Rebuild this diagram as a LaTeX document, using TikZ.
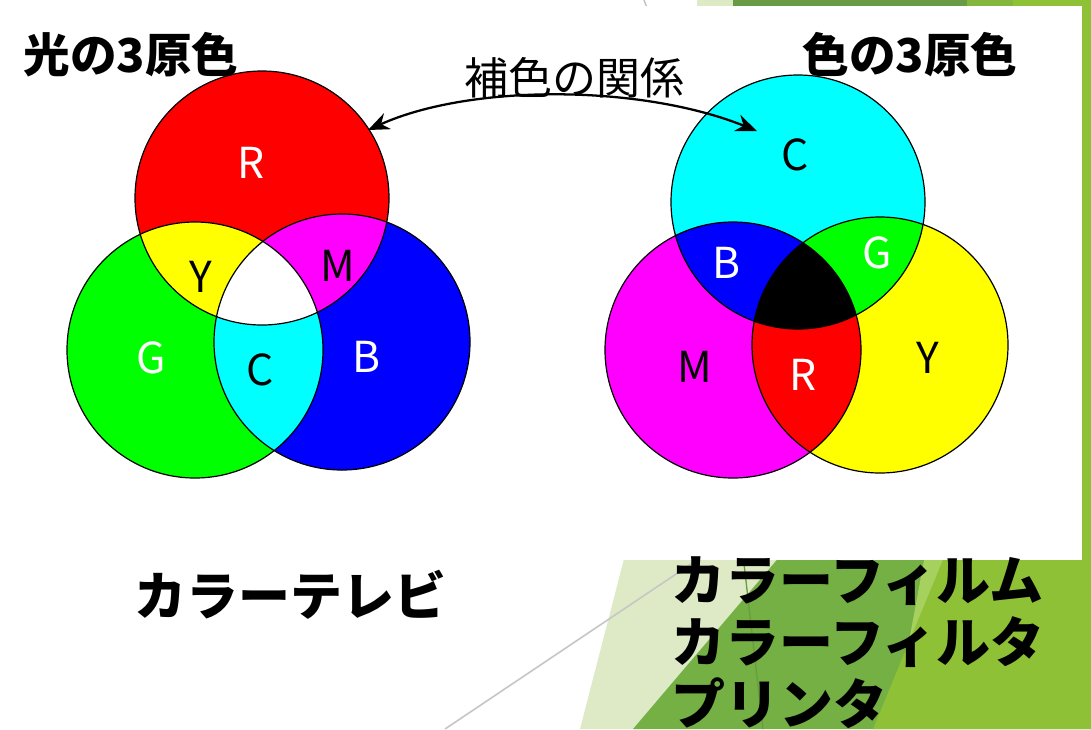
\documentclass[tikz,border=0pt]{standalone}
\usepackage{fontspec}
\setmainfont{Noto Sans CJK JP}
\usetikzlibrary{arrows.meta}
\definecolor{lightg}{HTML}{DEEAC6}
\definecolor{midg}{HTML}{699B46}
\definecolor{oliveg}{HTML}{84B53D}
\definecolor{brightg}{HTML}{8FC136}
\definecolor{darkg}{HTML}{74B044}
\definecolor{paleg}{HTML}{A7D15F}
\definecolor{pR}{HTML}{FF0000}
\definecolor{pG}{HTML}{00FF00}
\definecolor{pB}{HTML}{0000FF}
\definecolor{pC}{HTML}{00FFFF}
\definecolor{pM}{HTML}{FF00FF}
\definecolor{pY}{HTML}{FFFF00}
\tikzset{
  outline/.style={draw=black, line width=0.9pt},
  title/.style={font=\fontsize{35pt}{40pt}\selectfont\bfseries, inner sep=0pt},
  big/.style={font=\fontsize{39pt}{46pt}\selectfont\bfseries, inner sep=0pt},
  bigger/.style={font=\fontsize{40.5pt}{46.5pt}\selectfont\bfseries, inner sep=0pt},
  note/.style={font=\fontsize{33pt}{38pt}\selectfont, inner sep=0pt},
  lab/.style={font=\fontsize{32pt}{36pt}\selectfont, inner sep=0pt},
  wlab/.style={lab, text=white},
  blab/.style={lab, text=black},
  rel/.style={line width=1.7pt, {Stealth[length=16pt,width=13pt]}-{Stealth[length=16pt,width=13pt]}}
}
\begin{document}
\begin{tikzpicture}[x=0.75pt,y=-0.75pt]
\useasboundingbox (0,0) rectangle (1091,729);
\fill[white] (0,0) rectangle (1091,729);
% top decoration band
\fill[lightg] (697,0) rectangle (1091,8);
\fill[midg] (733,0) rectangle (967,8);
\fill[oliveg] (967,0) rectangle (1013,8);
\fill[brightg] (1013,0) rectangle (1091,729);
\draw[gray!50, line width=1pt] (644,0) -- (647,8);
% bottom decoration
\fill[lightg] (625,555) -- (580,729) -- (1091,729) -- (1091,555) -- cycle;
\fill[darkg] (781,555) -- (633,729) -- (1091,729) -- (1091,555) -- cycle;
\draw[black!10!darkg, line width=1pt] (743,555) -- (763,729);
\fill[paleg] (925,555) -- (945,555) -- (907,652) -- cycle;
\fill[brightg] (945,555) -- (873,729) -- (1091,729) -- (1091,555) -- cycle;
\draw[gray!45, line width=1.2pt] (445,729) -- (700,558);
% white panel
\fill[white] (0,6) rectangle (1082,560);

% ---- left diagram (additive) ----
\def\rR{(262,198) circle (127)}
\def\rG{(195,350) circle (128)}
\def\rB{(342,342) circle (128)}
\fill[pR] \rR; \fill[pG] \rG; \fill[pB] \rB;
\begin{scope}\clip \rR; \fill[pY] \rG; \end{scope}
\begin{scope}\clip \rR; \fill[pM] \rB; \end{scope}
\begin{scope}\clip \rG; \fill[pC] \rB; \end{scope}
\begin{scope}\clip \rR; \clip \rG; \fill[white] \rB; \end{scope}
\draw[outline] \rR; \draw[outline] \rG; \draw[outline] \rB;

% ---- right diagram (subtractive) ----
\def\sC{(798,202) circle (127)}
\def\sM{(733,350) circle (128)}
\def\sY{(880,345) circle (128)}
\fill[pC] \sC; \fill[pM] \sM; \fill[pY] \sY;
\begin{scope}\clip \sC; \fill[pB] \sM; \end{scope}
\begin{scope}\clip \sC; \fill[pG] \sY; \end{scope}
\begin{scope}\clip \sM; \fill[pR] \sY; \end{scope}
\begin{scope}\clip \sC; \clip \sM; \fill[black] \sY; \end{scope}
\draw[outline] \sC; \draw[outline] \sM; \draw[outline] \sY;

% labels left
\node[wlab] (lR) at (251,163) {R};
\node[blab] (lY) at (201,277) {Y};
\node[blab] (lM) at (338,266) {M};
\node[wlab] (lG) at (151,358) {G};
\node[blab] (lC) at (260,370) {C};
\node[wlab] (lB) at (367,357) {B};
% labels right
\node[blab] (rC) at (795,155) {C};
\node[wlab] (rB) at (727,263) {B};
\node[wlab] (rG) at (877,253) {G};
\node[blab] (rM) at (695,367) {M};
\node[wlab] (rR) at (803,375) {R};
\node[blab] (rY) at (928,358) {Y};

% titles
\node[title] (t1) at (131,55) {光の3原色};
\node[title] (t2) at (910,55) {色の3原色};
\node[note] (t3) at (574,78) {補色の関係};
\coordinate (arrL) at (368,130);
\coordinate (arrR) at (757,131);
\draw[rel] (arrL) .. controls (470,84) and (640,84) .. (arrR);

\node[big] (tv) at (290,595) {カラーテレビ};
\node[bigger, anchor=west, align=left] (film) at (671,643) {カラーフィルム\\カラーフィルタ\\プリンタ};
\end{tikzpicture}
\end{document}
